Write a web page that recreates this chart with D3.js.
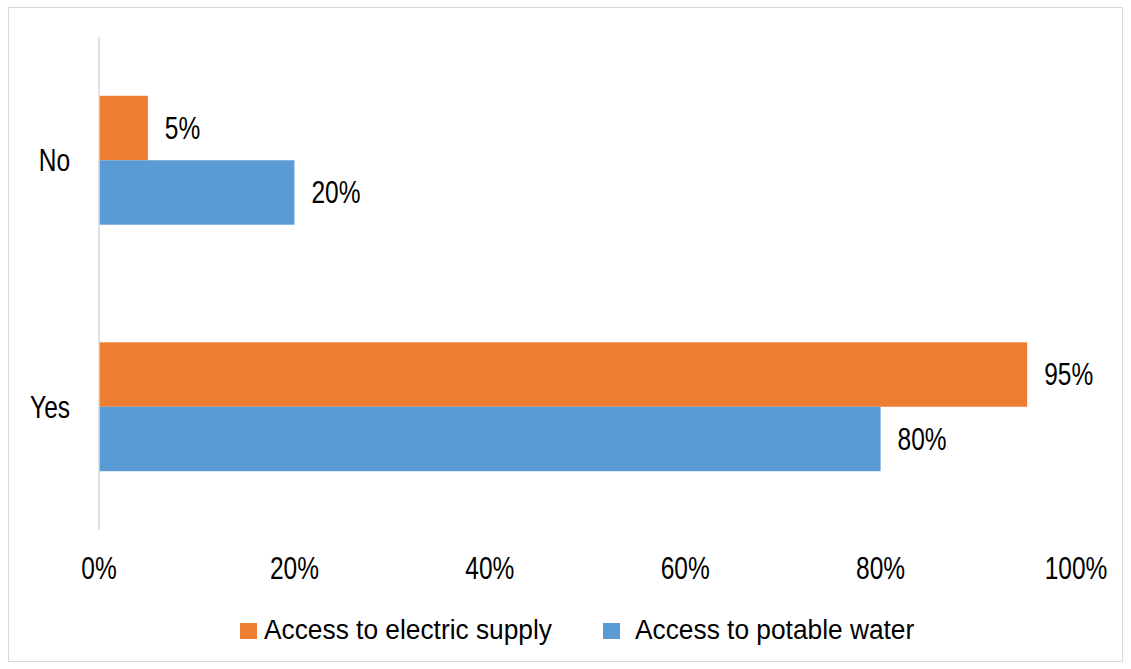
<!DOCTYPE html>
<html>
<head>
<meta charset="utf-8">
<script src="https://cdn.jsdelivr.net/npm/d3@7/dist/d3.min.js"></script>
<style>
  html, body { margin: 0; padding: 0; background: #fff; }
  svg text { font-family: "Liberation Sans", Arial, sans-serif; fill: #000; }
</style>
</head>
<body>
<svg id="chart" width="1131" height="669"></svg>
<script>
// Survey answers and their shares
const categories = ["No", "Yes"];
const seriesNames = ["Access to electric supply", "Access to potable water"];
const electricSupply = [0.05, 0.95];
const potableWater = [0.20, 0.80];
const tickValues = [0, 0.2, 0.4, 0.6, 0.8, 1.0];
const colors = ["#ED7D31", "#5B9BD5"];

const series = [electricSupply, potableWater];

const svg = d3.select("#chart");
const W = 1131, H = 669;

// condensed text: a group placed at (x, y) and squeezed horizontally
const LABEL_SIZE = 31, LABEL_SQUEEZE = 0.79;
const LEGEND_SIZE = 28, LEGEND_SQUEEZE = 0.94;
function condensed(sel, sx) {
  return sel.append("g").attr("transform", d => `translate(${d.tx},${d.ty}) scale(${sx},1)`);
}

// outer frame
svg.append("rect")
  .attr("x", 8.5).attr("y", 7.5)
  .attr("width", W - 17).attr("height", H - 15)
  .attr("fill", "#fff")
  .attr("stroke", "#d9d9d9").attr("stroke-width", 1);

const plot = { left: 99, right: 1076, top: 37, bottom: 530 };

const x = d3.scaleLinear().domain([0, 1]).range([plot.left, plot.right]);
const y = d3.scaleBand().domain(categories).range([plot.top, plot.bottom])
  .paddingInner(0.477).paddingOuter(0.2385);
const ySub = d3.scaleBand().domain(d3.range(series.length)).range([0, y.bandwidth()]);

const pct = d3.format(".0%");

// bars
const groups = svg.append("g").selectAll("g")
  .data(categories)
  .join("g")
  .attr("transform", c => `translate(0,${y(c)})`);

groups.selectAll("rect")
  .data((c, ci) => series.map((s, si) => ({ si, v: s[ci] })))
  .join("rect")
  .attr("x", x(0))
  .attr("y", d => ySub(d.si))
  .attr("width", d => x(d.v) - x(0))
  .attr("height", ySub.bandwidth())
  .attr("fill", d => colors[d.si]);

// value labels
groups.selectAll("g.val")
  .data((c, ci) => series.map((s, si) => ({
    si, v: s[ci],
    tx: x(s[ci]) + 17,
    ty: ySub(si) + ySub.bandwidth() / 2
  })))
  .join(enter => condensed(enter, LABEL_SQUEEZE).attr("class", "val"))
  .append("text")
  .attr("dy", "0.35em")
  .attr("font-size", LABEL_SIZE)
  .text(d => pct(d.v));

// category axis line
svg.append("line")
  .attr("x1", x(0)).attr("x2", x(0))
  .attr("y1", plot.top).attr("y2", plot.bottom)
  .attr("stroke", "#d9d9d9").attr("stroke-width", 1.5);

// category labels
svg.append("g").selectAll("g")
  .data(categories.map(c => ({ c, tx: 70, ty: y(c) + y.bandwidth() / 2 })))
  .join(enter => condensed(enter, LABEL_SQUEEZE))
  .append("text")
  .attr("dy", "0.35em")
  .attr("text-anchor", "end")
  .attr("font-size", LABEL_SIZE)
  .text(d => d.c);

// value axis tick labels
svg.append("g").selectAll("g")
  .data(tickValues.map(v => ({ v, tx: x(v), ty: 579 })))
  .join(enter => condensed(enter, LABEL_SQUEEZE))
  .append("text")
  .attr("text-anchor", "middle")
  .attr("font-size", LABEL_SIZE)
  .text(d => pct(d.v));

// legend: swatch position and text position per entry
const legendSwatchX = [240, 603];
const legendTextX = [264, 635];
const legend = svg.append("g").selectAll("g")
  .data(seriesNames)
  .join("g");
legend.append("rect")
  .attr("x", (d, i) => legendSwatchX[i]).attr("y", 623)
  .attr("width", 17).attr("height", 16)
  .attr("fill", (d, i) => colors[i]);
legend.append("g")
  .attr("transform", (d, i) => `translate(${legendTextX[i]},639) scale(${LEGEND_SQUEEZE},1)`)
  .append("text")
  .attr("font-size", LEGEND_SIZE)
  .text(d => d);
</script>
</body>
</html>
